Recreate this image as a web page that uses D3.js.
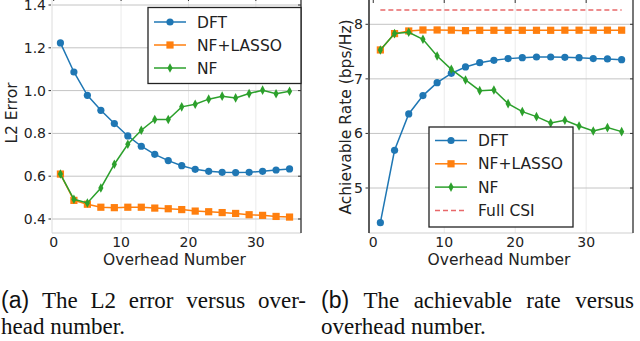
<!DOCTYPE html>
<html>
<head>
<meta charset="utf-8">
<script src="https://cdn.jsdelivr.net/npm/d3@7"></script>
<style>
  body { margin: 0; background: #fff; }
  svg { display: block; }
  text { font-family: "DejaVu Sans", sans-serif; fill: #222; }
</style>
</head>
<body>
<svg id="chart" width="640" height="341"></svg>
<script>
// overhead numbers on the x axis
const overhead = [1, 3, 5, 7, 9, 11, 13, 15, 17, 19, 21, 23, 25, 27, 29, 31, 33, 35];

// (a) L2 error
const l2Dft = [1.223, 1.087, 0.978, 0.908, 0.846, 0.788, 0.740, 0.702, 0.673, 0.649, 0.632, 0.623, 0.618, 0.617, 0.618, 0.623, 0.629, 0.634];
const l2NfLasso = [0.610, 0.487, 0.469, 0.455, 0.453, 0.455, 0.455, 0.451, 0.448, 0.444, 0.437, 0.434, 0.430, 0.426, 0.420, 0.417, 0.412, 0.409];
const l2Nf = [0.610, 0.492, 0.475, 0.545, 0.656, 0.749, 0.815, 0.865, 0.865, 0.924, 0.936, 0.960, 0.974, 0.966, 0.986, 1.002, 0.985, 0.997];

// (b) achievable rate
const rateDft = [4.365, 5.691, 6.357, 6.693, 6.931, 7.102, 7.218, 7.297, 7.340, 7.371, 7.389, 7.401, 7.401, 7.395, 7.389, 7.371, 7.365, 7.352];
const rateNfLasso = [7.530, 7.830, 7.878, 7.896, 7.896, 7.893, 7.884, 7.890, 7.890, 7.890, 7.890, 7.890, 7.890, 7.892, 7.892, 7.892, 7.892, 7.892];
const rateNf = [7.530, 7.830, 7.853, 7.725, 7.420, 7.175, 6.980, 6.784, 6.797, 6.546, 6.400, 6.308, 6.192, 6.241, 6.137, 6.045, 6.106, 6.033];
const fullCsi = 8.26;

const overheadTicks = [0, 10, 20, 30];
const l2Ticks = [0.4, 0.6, 0.8, 1.0, 1.2, 1.4];
const rateTicks = [5, 6, 7, 8];

const seriesNames = ['DFT', 'NF+LASSO', 'NF', 'Full CSI'];
const colors = { 'DFT': '#1f77b4', 'NF+LASSO': '#ff7f0e', 'NF': '#2ca02c', 'Full CSI': '#e8686a' };
const markers = { 'DFT': 'circle', 'NF+LASSO': 'square', 'NF': 'diamond' };

const captionA = [['(a)', 'The', 'L2', 'error', 'versus', 'over-'], ['head', 'number.']];
const captionB = [['(b)', 'The', 'achievable', 'rate', 'versus'], ['overhead', 'number.']];

const svg = d3.select('#chart');

function drawMarker(g, kind, color) {
    if (kind === 'circle') {
        g.append('circle').attr('r', 3.6).attr('fill', color);
    } else if (kind === 'square') {
        g.append('rect').attr('x', -3.6).attr('y', -3.6).attr('width', 7.2).attr('height', 7.2).attr('fill', color);
    } else {
        g.append('path').attr('d', 'M0,-4.8L2.6,0L0,4.8L-2.6,0Z').attr('fill', color);
    }
}

function drawPanel(opt) {
    const g = svg.append('g');
    const x = d3.scaleLinear().domain(opt.xDomain).range([opt.left, opt.right]);
    const y = d3.scaleLinear().domain(opt.yDomain).range(opt.yRange);

    // grid
    g.selectAll('.vgrid').data(overheadTicks.slice(1)).join('line')
        .attr('x1', d => x(d)).attr('x2', d => x(d))
        .attr('y1', opt.top).attr('y2', opt.bottom)
        .attr('stroke', '#ebebeb').attr('stroke-width', 1);
    g.selectAll('.hgrid').data(opt.yTicks).join('line')
        .attr('x1', opt.left).attr('x2', opt.right)
        .attr('y1', d => y(d)).attr('y2', d => y(d))
        .attr('stroke', '#c4c4c4').attr('stroke-width', 1);

    // frame
    g.append('line').attr('x1', opt.left).attr('x2', opt.right).attr('y1', opt.bottom).attr('y2', opt.bottom)
        .attr('stroke', '#cfcfcf').attr('stroke-width', 1.2);
    g.append('line').attr('x1', opt.left).attr('x2', opt.left).attr('y1', opt.top).attr('y2', opt.bottom)
        .attr('stroke', opt.leftDark ? '#333' : '#dcdcdc').attr('stroke-width', opt.leftDark ? 1.6 : 1);
    g.append('line').attr('x1', opt.right).attr('x2', opt.right).attr('y1', opt.top).attr('y2', opt.bottom)
        .attr('stroke', '#555').attr('stroke-width', 1.6);

    // y ticks
    g.selectAll('.ytick').data(opt.yTicks).join('line')
        .attr('x1', opt.left - 3.5).attr('x2', opt.left - 1)
        .attr('y1', d => y(d)).attr('y2', d => y(d))
        .attr('stroke', '#333').attr('stroke-width', 1);
    g.selectAll('.rtick').data(opt.yTicks).join('line')
        .attr('x1', opt.right - 3).attr('x2', opt.right)
        .attr('y1', d => y(d)).attr('y2', d => y(d))
        .attr('stroke', '#333').attr('stroke-width', 1);
    g.selectAll('.ylab').data(opt.yTicks).join('text')
        .attr('x', opt.left - 6).attr('y', d => y(d)).attr('dy', '0.36em')
        .attr('text-anchor', 'end').attr('font-size', 14)
        .text(opt.yFormat);

    // x ticks
    g.selectAll('.xtick').data(overheadTicks).join('line')
        .attr('x1', d => x(d)).attr('x2', d => x(d))
        .attr('y1', opt.top).attr('y2', opt.top + 3)
        .attr('stroke', '#333').attr('stroke-width', 1);
    g.selectAll('.xlab').data(overheadTicks).join('text')
        .attr('x', d => x(d)).attr('y', 247)
        .attr('text-anchor', 'middle').attr('font-size', 14)
        .text(d => d);

    g.append('text').attr('x', (opt.left + opt.right) / 2 - 2).attr('y', 265)
        .attr('text-anchor', 'middle').attr('font-size', 15.5).text('Overhead Number');
    g.append('text').attr('transform', `translate(${opt.yLabelX},${opt.yLabelY}) rotate(-90)`)
        .attr('text-anchor', 'middle').attr('font-size', 15.5).text(opt.yLabel);

    // reference line
    if (opt.refLine !== undefined) {
        g.append('line')
            .attr('x1', x(overhead[0])).attr('x2', x(overhead[overhead.length - 1]))
            .attr('y1', y(opt.refLine)).attr('y2', y(opt.refLine))
            .attr('stroke', colors['Full CSI']).attr('stroke-width', 1.5)
            .attr('stroke-dasharray', '5,3');
    }

    // series
    const line = d3.line().x((d, i) => x(overhead[i])).y(d => y(d));
    opt.series.forEach(s => {
        g.append('path').datum(s.values)
            .attr('d', line).attr('fill', 'none')
            .attr('stroke', colors[s.name]).attr('stroke-width', 1.5);
        s.values.forEach((v, i) => {
            const m = g.append('g').attr('transform', `translate(${x(overhead[i])},${y(v)})`);
            drawMarker(m, markers[s.name], colors[s.name]);
        });
    });

    // legend
    const lg = g.append('g');
    lg.append('rect').attr('x', opt.legend.x).attr('y', opt.legend.y)
        .attr('width', opt.legend.w).attr('height', opt.legend.h)
        .attr('fill', '#fff').attr('stroke', '#222').attr('stroke-width', 1.3);
    opt.legend.names.forEach((name, i) => {
        const cy = opt.legend.y + opt.legend.first + i * opt.legend.step;
        const x0 = opt.legend.x + 6;
        lg.append('line').attr('x1', x0).attr('x2', x0 + 32).attr('y1', cy).attr('y2', cy)
            .attr('stroke', colors[name]).attr('stroke-width', 1.5)
            .attr('stroke-dasharray', name === 'Full CSI' ? '5,3' : null);
        if (markers[name]) {
            const m = lg.append('g').attr('transform', `translate(${x0 + 16},${cy})`);
            drawMarker(m, markers[name], colors[name]);
        }
        lg.append('text').attr('x', x0 + 43).attr('y', cy).attr('dy', '0.36em')
            .attr('font-size', 15.5).text(name);
    });
}

drawPanel({
    left: 52, right: 301, top: -2, bottom: 233,
    xDomain: [-0.25, 36.7],
    yDomain: [0.4, 1.4], yRange: [219, 5],
    yTicks: l2Ticks, yFormat: d => d.toFixed(1),
    leftDark: false,
    yLabel: 'L2 Error', yLabelX: 17, yLabelY: 113,
    series: [
        { name: 'DFT', values: l2Dft },
        { name: 'NF+LASSO', values: l2NfLasso },
        { name: 'NF', values: l2Nf }
    ],
    legend: { x: 148, y: 7.5, w: 153, h: 76, first: 14.5, step: 23, names: seriesNames.slice(0, 3) }
});

drawPanel({
    left: 369, right: 633, top: 0, bottom: 233,
    xDomain: [-0.6, 36.6],
    yDomain: [5, 8], yRange: [188, 24.3],
    yTicks: rateTicks, yFormat: d => d,
    leftDark: true,
    yLabel: 'Achievable Rate (bps/Hz)', yLabelX: 351, yLabelY: 117,
    refLine: fullCsi,
    series: [
        { name: 'DFT', values: rateDft },
        { name: 'NF+LASSO', values: rateNfLasso },
        { name: 'NF', values: rateNf }
    ],
    legend: { x: 429, y: 127, w: 144, h: 100, first: 13.5, step: 23.3, names: seriesNames }
});

// captions, first lines justified
function caption(lines, x0, x1) {
    lines.forEach((words, li) => {
        const yb = 308 + li * 25.7;
        const nodes = words.map((w, i) => svg.append('text')
            .attr('y', yb).attr('font-size', 23)
            .style('font-family', (i === 0 && li === 0) ? '"Liberation Sans", Arial, sans-serif' : '"Liberation Serif", "Times New Roman", serif')
            .style('fill', '#111')
            .text(w));
        const widths = nodes.map(n => n.node().getComputedTextLength());
        const total = d3.sum(widths);
        const gap = li === 0 ? (x1 - x0 - total) / (words.length - 1) : 5.75;
        let cx = x0;
        nodes.forEach((n, i) => { n.attr('x', cx); cx += widths[i] + gap; });
    });
}
caption(captionA, 1, 306);
caption(captionB, 321, 634);
</script>
</body>
</html>
